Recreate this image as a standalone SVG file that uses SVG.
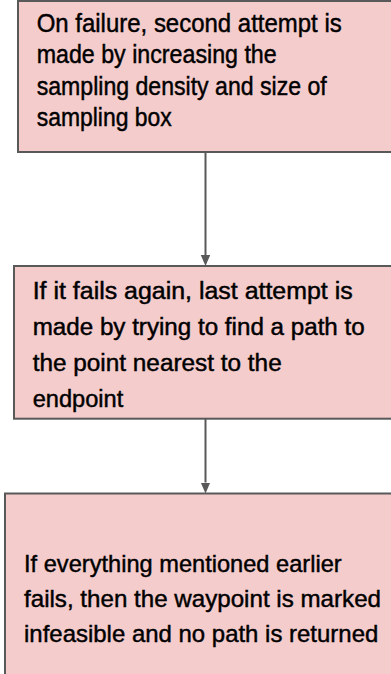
<svg xmlns="http://www.w3.org/2000/svg" width="391" height="674" viewBox="0 0 391 674">
  <style>
    .box { fill: #f4cccc; stroke: #595959; stroke-width: 2; }
    .conn { stroke: #595959; stroke-width: 2; fill: none; }
    .t { font-family: "Liberation Sans", Arial, sans-serif; fill: #000000; stroke: #000000; stroke-width: 0.45; }
    .t1 { font-size: 25.5px; }
    .t2 { font-size: 23px; }
    .t3 { font-size: 24.5px; }
  </style>
  <defs>
    <marker id="arrow" markerUnits="userSpaceOnUse" markerWidth="12" markerHeight="10" refX="0" refY="4.75" orient="auto">
      <path d="M0,0 L11,4.75 L0,9.5 z" fill="#595959"/>
    </marker>
  </defs>

  <g id="connectors">
    <line class="conn" x1="205.5" y1="152" x2="205.5" y2="255" marker-end="url(#arrow)"/>
    <line class="conn" x1="205.5" y1="419" x2="205.5" y2="482.5" marker-end="url(#arrow)"/>
  </g>

  <g id="node1">
    <rect class="box" x="18" y="1" width="390" height="151"/>
    <text class="t t1" x="36.7" y="31.5" textLength="305" lengthAdjust="spacingAndGlyphs">On failure, second attempt is</text>
    <text class="t t1" x="36.7" y="63" textLength="240" lengthAdjust="spacingAndGlyphs">made by increasing the</text>
    <text class="t t1" x="36.7" y="94.5" textLength="290" lengthAdjust="spacingAndGlyphs">sampling density and size of</text>
    <text class="t t1" x="36.7" y="126" textLength="135" lengthAdjust="spacingAndGlyphs">sampling box</text>
  </g>

  <g id="node2">
    <rect class="box" x="14" y="266" width="394" height="152.7"/>
    <text class="t t2" x="32.7" y="299" textLength="320" lengthAdjust="spacingAndGlyphs">If it fails again, last attempt is</text>
    <text class="t t2" x="32.7" y="335" textLength="332" lengthAdjust="spacingAndGlyphs">made by trying to find a path to</text>
    <text class="t t2" x="32.7" y="370.5" textLength="249" lengthAdjust="spacingAndGlyphs">the point nearest to the</text>
    <text class="t t2" x="32.7" y="406.5" textLength="90.6" lengthAdjust="spacingAndGlyphs">endpoint</text>
  </g>

  <g id="node3">
    <rect class="box" x="5" y="493.5" width="403" height="200"/>
    <text class="t t3" x="24" y="571.7" textLength="317.7" lengthAdjust="spacingAndGlyphs">If everything mentioned earlier</text>
    <text class="t t3" x="24" y="606.7" textLength="357" lengthAdjust="spacingAndGlyphs">fails, then the waypoint is marked</text>
    <text class="t t3" x="24" y="641.7" textLength="354.3" lengthAdjust="spacingAndGlyphs">infeasible and no path is returned</text>
  </g>
</svg>
